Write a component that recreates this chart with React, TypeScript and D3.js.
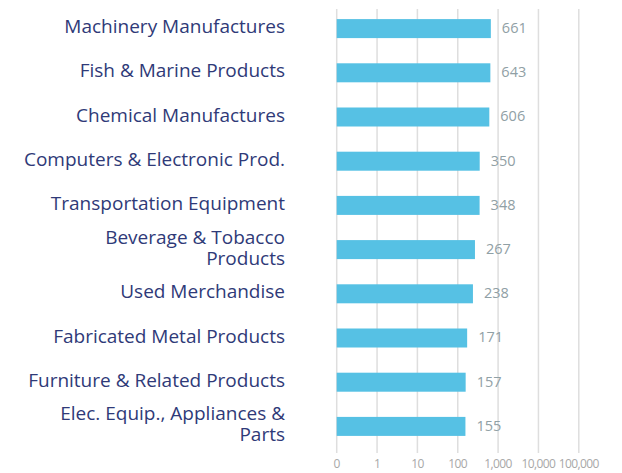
import React from "react";
import * as d3 from "d3";

const categories: string[][] = [
  ["Machinery Manufactures"],
  ["Fish & Marine Products"],
  ["Chemical Manufactures"],
  ["Computers & Electronic Prod."],
  ["Transportation Equipment"],
  ["Beverage & Tobacco", "Products"],
  ["Used Merchandise"],
  ["Fabricated Metal Products"],
  ["Furniture & Related Products"],
  ["Elec. Equip., Appliances &", "Parts"],
];
const values: number[] = [661, 643, 606, 350, 348, 267, 238, 171, 157, 155];
const tickValues: number[] = [0.1, 1, 10, 100, 1000, 10000, 100000];
const tickLabels: string[] = ["0", "1", "10", "100", "1,000", "10,000", "100,000"];

export default function App() {
  const W = 622, H = 473;
  const x = d3.scaleLog().domain([0.1, 100000]).range([336.7, 578.8]);
  const y = d3
    .scaleBand<number>()
    .domain(d3.range(values.length))
    .range([6.5, 448.5])
    .paddingInner(0.57)
    .paddingOuter(0.285);
  const bw = y.bandwidth();
  return (
    <svg
      width={W}
      height={H}
      style={{ position: "absolute", left: 0, top: 0, background: "#fff" }}
    >
      {tickValues.map((t, i) => (
        <g key={i}>
          <line
            x1={x(t)}
            x2={x(t)}
            y1={9}
            y2={453}
            stroke="#dedede"
            strokeWidth={1.5}
          />
          <text
            x={x(t)}
            y={465}
            textAnchor="middle"
            dominantBaseline="middle"
            fontFamily="Open Sans, sans-serif"
            fontSize={12}
            letterSpacing={-0.6}
            fill="#a8a8a8"
          >
            {tickLabels[i]}
          </text>
        </g>
      ))}
      {values.map((v, i) => {
        const yc = (y(i) as number) + bw / 2;
        const lines = categories[i];
        const y0 = yc - 0.5 - ((lines.length - 1) / 2) * 21;
        return (
          <g key={i}>
            <rect
              x={x(0.1)}
              y={y(i)}
              width={x(v) - x(0.1)}
              height={bw}
              fill="#56c1e4"
            />
            <text
              x={x(v) + 11}
              y={yc + 0.5}
              dominantBaseline="middle"
              fontFamily="Open Sans, sans-serif"
              fontSize={14.5}
              fill="#90a0a5"
            >
              {v}
            </text>
            <text
              textAnchor="end"
              dominantBaseline="middle"
              fontFamily="Open Sans, sans-serif"
              fontSize={19}
              fill="#2f3a78"
            >
              {lines.map((l, j) => (
                <tspan key={j} x={285} y={y0 + j * 21}>
                  {l}
                </tspan>
              ))}
            </text>
          </g>
        );
      })}
    </svg>
  );
}
